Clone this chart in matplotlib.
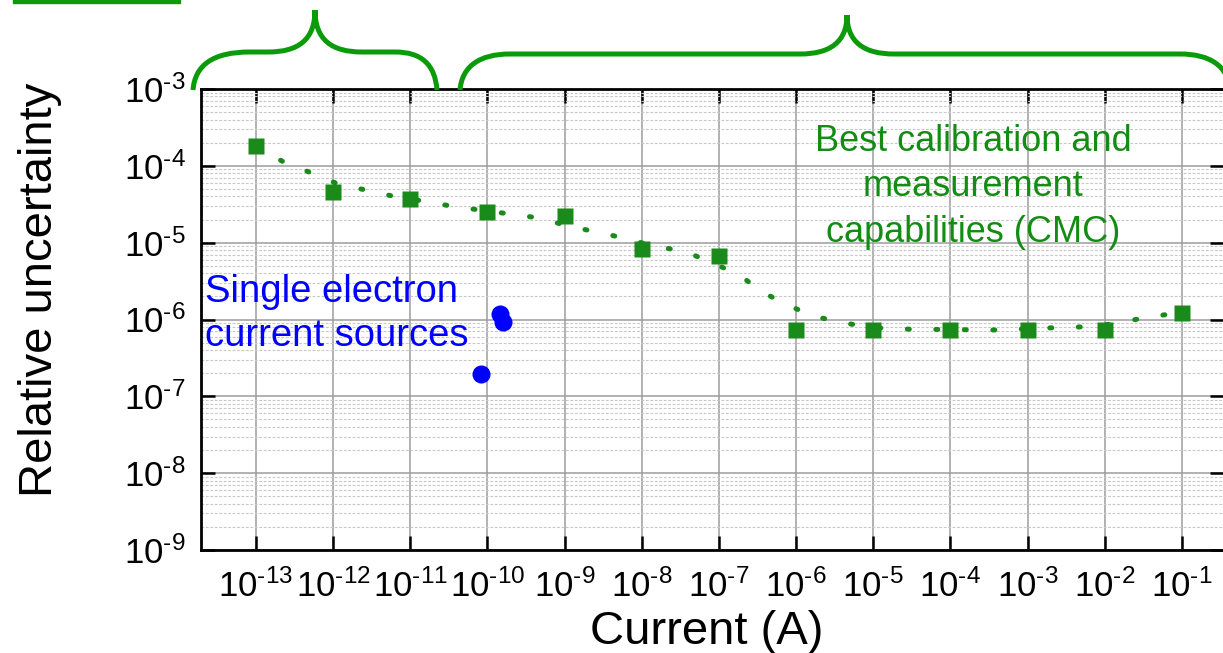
import numpy as np
import matplotlib
matplotlib.use("Agg")
import matplotlib.pyplot as plt
from matplotlib.path import Path
from matplotlib.patches import PathPatch, Rectangle
from matplotlib.ticker import FixedLocator, LogLocator, NullLocator, NullFormatter, FuncFormatter

# --- data ---
cmc_current = [1e-13, 1e-12, 1e-11, 1e-10, 1e-9, 1e-8, 1e-7,
               1e-6, 1e-5, 1e-4, 1e-3, 1e-2, 1e-1]
cmc_uncert = [1.8e-4, 4.5e-5, 3.7e-5, 2.5e-5, 2.2e-5, 8.3e-6, 6.8e-6,
              7.4e-7, 7.4e-7, 7.4e-7, 7.4e-7, 7.4e-7, 1.23e-6]

# dotted trend drawn through the CMC points
trend_current = [1e-13, 2.2e-13, 4.9e-13, 1.12e-12, 2.75e-12, 6.2e-12,
                 1.55e-11, 3.55e-11, 2.1e-10, 4.9e-10, 1.15e-9, 2.7e-9,
                 6.5e-9, 1.5e-8, 3.55e-8, 1.78e-7, 3.6e-7, 8.1e-7,
                 1.86e-6, 4.5e-6, 1.07e-5, 2.6e-5, 3.5e-4, 2.1e-3,
                 4.9e-3, 1.2e-2, 2.8e-2, 6.6e-2, 1e-1]
trend_uncert = [1.8e-4, 1.15e-4, 8.3e-5, 5.9e-5, 4.8e-5, 4.0e-5,
                3.45e-5, 2.97e-5, 2.34e-5, 2.08e-5, 1.63e-5, 1.37e-5,
                1.12e-5, 8.9e-6, 7.8e-6, 3.9e-6, 2.3e-6, 1.5e-6,
                1.08e-6, 8.9e-7, 7.8e-7, 7.5e-7, 7.3e-7, 7.8e-7,
                8.0e-7, 8.7e-7, 1.02e-6, 1.17e-6, 1.23e-6]

sec_current = [8.3e-11, 1.45e-10, 1.58e-10]
sec_uncert = [1.95e-7, 1.18e-6, 9.3e-7]

x_ticks = [1e-13, 1e-12, 1e-11, 1e-10, 1e-9, 1e-8, 1e-7,
           1e-6, 1e-5, 1e-4, 1e-3, 1e-2, 1e-1]
y_ticks = [1e-9, 1e-8, 1e-7, 1e-6, 1e-5, 1e-4, 1e-3]

GREEN = "#1a8a1a"
TEXT_GREEN = "#128c12"
BRACE_GREEN = "#0a9a0a"
BLUE = "#0000ff"

plt.rcParams["font.family"] = ["Liberation Sans", "DejaVu Sans"]
plt.rcParams["mathtext.fontset"] = "custom"
plt.rcParams["mathtext.rm"] = "Liberation Sans"
plt.rcParams["mathtext.it"] = "Liberation Sans:italic"
plt.rcParams["mathtext.default"] = "regular"

W, H = 1223, 653
fig = plt.figure(figsize=(W / 100, H / 100), dpi=100)
ax = fig.add_axes([201 / W, 1 - 550 / H, (1224 - 201) / W, (550 - 89) / H])


def fpx(x, y):
    """pixel position (y down) -> figure fraction"""
    return (x / W, 1 - y / H)


def pow_label(v, pos):
    # short hyphen like the original, not the wide minus sign
    e = int(round(np.log10(v)))
    return r"$10^{\text{-}%d}$" % abs(e)


ax.set_xscale("log")
ax.set_yscale("log")
ax.set_xlim(10 ** -13.71, 10 ** -0.455)
ax.set_ylim(1e-9, 1e-3)

ax.xaxis.set_major_locator(FixedLocator(x_ticks))
ax.yaxis.set_major_locator(FixedLocator(y_ticks))
ax.xaxis.set_major_formatter(FuncFormatter(pow_label))
ax.yaxis.set_major_formatter(FuncFormatter(pow_label))
ax.xaxis.set_minor_locator(NullLocator())
ax.yaxis.set_minor_locator(LogLocator(base=10, subs=range(2, 10), numticks=100))
ax.yaxis.set_minor_formatter(NullFormatter())

ax.grid(True, which="major", color="#9c9c9c", lw=1.1, ls="-")
ax.grid(True, which="minor", axis="y", color="#c8c8c8", lw=0.8, ls=(0, (2.5, 1.5)))
ax.set_axisbelow(True)

ax.tick_params(which="major", direction="in", length=10, width=1.8,
               top=True, right=True, labelsize=25)
ax.tick_params(axis="x", pad=14)
ax.tick_params(axis="y", pad=11)
ax.tick_params(which="minor", length=0)
for s in ax.spines.values():
    s.set_linewidth(2)

# trend and points
ax.plot(trend_current, trend_uncert, color=GREEN, lw=3.6,
        ls=(0, (0.4, 5.3)), dash_capstyle="round", zorder=2)
ax.plot(cmc_current, cmc_uncert, "s", color=GREEN, ms=11.5, mec="none", zorder=3)
ax.plot(sec_current, sec_uncert, "o", color=BLUE, ms=13, mec="none", zorder=3)

ax.set_xlabel("Current (A)", fontsize=34)
ax.set_ylabel("Relative uncertainty", fontsize=34)
ax.xaxis.set_label_coords(0.494, -0.13)
ax.yaxis.set_label_coords(-0.136, 0.564)

fig.text(*fpx(973, 187), "Best calibration and\nmeasurement\ncapabilities (CMC)",
         color=TEXT_GREEN, fontsize=26, ha="center", va="center",
         multialignment="center", linespacing=1.38)
fig.text(*fpx(205, 314), "Single electron\ncurrent sources",
         color=BLUE, fontsize=27.5, ha="left", va="center", linespacing=1.32)

# curly braces above the axes
left_brace = [(193, 90), (195, 65), (213, 52), (250, 52), (268, 52),
              (298, 52), (315, 40), (315, 10),
              (315, 40), (332, 52), (362, 52), (395, 52),
              (422, 52), (435, 65), (437, 90)]
right_brace = [(460, 90), (462, 66), (480, 54), (510, 54), (800, 54),
               (830, 54), (847, 42), (847, 15),
               (847, 42), (864, 54), (894, 54), (1180, 54),
               (1210, 54), (1228, 66), (1230, 90)]
codes = [Path.MOVETO, Path.CURVE4, Path.CURVE4, Path.CURVE4, Path.LINETO,
         Path.CURVE4, Path.CURVE4, Path.CURVE4,
         Path.CURVE4, Path.CURVE4, Path.CURVE4, Path.LINETO,
         Path.CURVE4, Path.CURVE4, Path.CURVE4]
for pts in (left_brace, right_brace):
    path = Path([fpx(x, y) for x, y in pts], codes)
    fig.add_artist(PathPatch(path, fill=False, lw=3.6, ec=BRACE_GREEN,
                             capstyle="butt", transform=fig.transFigure))

fig.add_artist(Rectangle(fpx(13, 3), 167 / W, 5 / H, color=BRACE_GREEN,
                         transform=fig.transFigure))

fig.savefig("out.png", dpi=100)
